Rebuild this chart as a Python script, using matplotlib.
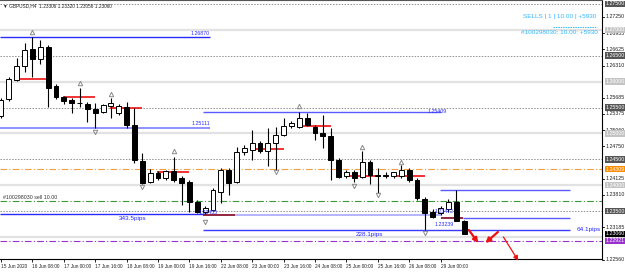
import matplotlib
matplotlib.use("Agg")
import matplotlib.pyplot as plt
from matplotlib import transforms

# GBPUSD H4 candles, 15 Jun 16:00 .. 29 Jun 12:00
opens = [1.25336, 1.25664, 1.26031, 1.26302, 1.26630, 1.26437, 1.26669, 1.25915, 1.25703, 1.25645,
         1.25587, 1.25568, 1.25471, 1.25413, 1.25529, 1.25394, 1.25510, 1.25162, 1.24467, 1.24060,
         1.24235, 1.24138, 1.24274, 1.24138, 1.24060, 1.23674, 1.23481, 1.23520, 1.23867, 1.24293,
         1.24060, 1.24640, 1.24679, 1.24814, 1.24660, 1.24814, 1.24968, 1.25143, 1.25123, 1.25297,
         1.25123, 1.25007, 1.24949, 1.24486, 1.24176, 1.24254, 1.24158, 1.24447, 1.24196, 1.24196,
         1.24176, 1.24176, 1.24293, 1.24099, 1.23732, 1.23481, 1.23462, 1.23539, 1.23674, 1.23306]
highs = [1.25683, 1.26090, 1.26456, 1.26746, 1.26870, 1.26804, 1.26708, 1.25954, 1.25722, 1.25683,
         1.25877, 1.25606, 1.25587, 1.25568, 1.25683, 1.25568, 1.25606, 1.25490, 1.24621, 1.24312,
         1.24274, 1.24293, 1.24544, 1.24176, 1.24099, 1.23713, 1.23597, 1.23945, 1.24332, 1.24332,
         1.24737, 1.24776, 1.25065, 1.24853, 1.25104, 1.25123, 1.25297, 1.25239, 1.25409, 1.25394,
         1.25162, 1.25355, 1.25104, 1.24524, 1.24293, 1.24293, 1.24660, 1.24486, 1.24332, 1.24254,
         1.24254, 1.24390, 1.24332, 1.24138, 1.23771, 1.23539, 1.23597, 1.23732, 1.23906, 1.23320]
lows = [1.25297, 1.25626, 1.26012, 1.26186, 1.26090, 1.26341, 1.25510, 1.25664, 1.25568, 1.25394,
        1.25510, 1.25220, 1.25111, 1.25394, 1.25297, 1.25355, 1.25104, 1.24428, 1.24022, 1.24041,
        1.24099, 1.24099, 1.24060, 1.23616, 1.23481, 1.23462, 1.23435, 1.23500, 1.23655, 1.23810,
        1.24041, 1.24582, 1.24486, 1.24621, 1.24370, 1.24293, 1.24949, 1.25104, 1.25104, 1.25143,
        1.24872, 1.24718, 1.24099, 1.24138, 1.24138, 1.24060, 1.24138, 1.24022, 1.23848, 1.24138,
        1.24138, 1.24138, 1.24060, 1.23713, 1.23128, 1.23366, 1.23423, 1.23481, 1.23327, 1.23056]
closes = [1.25645, 1.26051, 1.26302, 1.26611, 1.26437, 1.26669, 1.25877, 1.25703, 1.25626, 1.25587,
          1.25578, 1.25471, 1.25394, 1.25548, 1.25587, 1.25529, 1.25162, 1.24486, 1.24041, 1.24235,
          1.24138, 1.24274, 1.24099, 1.24041, 1.23674, 1.23481, 1.23558, 1.23906, 1.24293, 1.24041,
          1.24640, 1.24718, 1.24814, 1.24660, 1.24814, 1.24968, 1.25143, 1.25201, 1.25297, 1.25162,
          1.25007, 1.24949, 1.24486, 1.24158, 1.24254, 1.24138, 1.24447, 1.24196, 1.24186, 1.24186,
          1.24254, 1.24293, 1.24099, 1.23752, 1.23462, 1.23385, 1.23558, 1.23674, 1.23310, 1.23060]

# fractal arrows (bar index, price)
fractal_up = [(4, 1.26959), (10, 1.25973), (14, 1.25761), (22, 1.24660), (38, 1.25529),
              (46, 1.24737), (51, 1.24447)]
fractal_down = [(12, 1.25027), (18, 1.23964), (26, 1.23288), (35, 1.24254), (45, 1.23983),
                (48, 1.23810), (54, 1.23075)]

# daily open segments (start bar, end bar, price)
day_lines = [(2, 6, 1.26051), (8, 12, 1.25710), (14, 18, 1.25490), (20, 24, 1.24260),
             (32, 36, 1.24698), (38, 42, 1.25143), (44, 48, 1.24176), (50, 54, 1.24176)]
day_lines_dark = [(25.7, 29.8, 1.23430), (56, 58.9, 1.23366)]

date_labels = ["15 Jun 2020", "16 Jun 08:00", "17 Jun 00:00", "17 Jun 16:00", "18 Jun 08:00",
               "19 Jun 00:00", "19 Jun 16:00", "22 Jun 08:00", "23 Jun 00:00", "23 Jun 16:00",
               "24 Jun 08:00", "25 Jun 00:00", "25 Jun 16:00", "26 Jun 08:00", "29 Jun 00:00"]
date_bars = [0, 4, 8, 12, 16, 20, 24, 28, 32, 36, 40, 44, 48, 52, 56]

scale_prices = [1.27250, 1.26935, 1.26625, 1.26310, 1.25685, 1.25375, 1.25060,
                1.24750, 1.24125, 1.23810, 1.23185, 1.22560]
box_prices = [1.27500, 1.27000, 1.26500, 1.26000, 1.25500, 1.25000, 1.24500, 1.24309,
              1.24000, 1.23500, 1.23000, 1.23060, 1.22921]
box_colors = ["#555555", "#c4c4c4", "#555555", "#c4c4c4", "#555555", "#c4c4c4", "#555555",
              "#ff8c00", "#c4c4c4", "#555555", "#c4c4c4", "#000000", "#9932cc"]

FONT = "Liberation Sans"
FS = 3.8

fig = plt.figure(figsize=(6.25, 2.72), dpi=100)
ax = fig.add_axes([0, 13 / 272, 602 / 625, 259 / 272])
ax.set_xlim(-0.13, 76.56)
ax.set_ylim(1.22573, 1.27577)

# grid: dotted half levels, light solid round levels
for p in [1.275, 1.265, 1.255, 1.245, 1.235]:
    ax.axhline(p, color="#909090", lw=0.7, ls=(0, (1.5, 1.5)), zorder=0)
for p in [1.27, 1.26, 1.25, 1.24, 1.23]:
    ax.axhline(p, color="#e2e2e2", lw=1.6, zorder=0)

# indicator levels across the chart
ax.axhline(1.24309, color="#f0a040", lw=0.8, ls=(0, (6, 2, 1, 2)), zorder=1)
ax.axhline(1.23700, color="#3a9a3a", lw=0.8, ls=(0, (6, 2, 1, 2)), zorder=1)
ax.axhline(1.22921, color="#9932cc", lw=0.8, ls=(0, (6, 2, 1, 2)), zorder=1)

# trend / measure lines
ax.hlines(1.26870, -0.13, 26.6, color="#2a2aff", lw=1.0, zorder=1)
ax.hlines(1.25111, -0.13, 26.6, color="#9090ff", lw=1.4, zorder=1)
ax.hlines(1.25409, 25.7, 56.0, color="#5a5aff", lw=1.0, zorder=1)
ax.hlines(1.23435, -0.13, 25.7, color="#2a2aff", lw=1.0, zorder=1)
ax.hlines(1.23430, 29.8, 56.0, color="#a8a8ff", lw=1.2, zorder=1)
ax.hlines(1.23128, 25.7, 72.5, color="#3a3aff", lw=1.0, zorder=1)
ax.hlines(1.23906, 55.9, 72.5, color="#5a5aff", lw=1.0, zorder=1)
ax.hlines(1.23366, 58.9, 72.5, color="#5a5aff", lw=1.0, zorder=1)

for b0, b1, p in day_lines:
    ax.hlines(p, b0 - 0.1, b1, color="#ee1111", lw=1.2, zorder=2)
for b0, b1, p in day_lines_dark:
    ax.hlines(p, b0, b1, color="#800020", lw=1.2, zorder=2)

# candles
for i in range(len(opens)):
    o, h, l, c = opens[i], highs[i], lows[i], closes[i]
    ax.vlines(i, l, h, color="black", lw=0.8, zorder=3)
    bull = c >= o
    body = max(abs(c - o), 0.00004)
    ax.bar(i, body, bottom=min(o, c), width=0.62, color="white" if bull else "black",
           edgecolor="black", lw=0.7, zorder=4)

ax.plot([f[0] for f in fractal_up], [f[1] for f in fractal_up], ls="none", marker="^",
        ms=3.2, mfc="none", mec="#8a8a8a", mew=0.7, zorder=5)
ax.plot([f[0] for f in fractal_down], [f[1] for f in fractal_down], ls="none", marker="v",
        ms=3.2, mfc="none", mec="#8a8a8a", mew=0.7, zorder=5)

# line labels
txt = dict(fontsize=FS, family=FONT, zorder=6)
ax.text(26.6, 1.26890, "1.26870", color="#2a2aff", ha="right", va="bottom", **txt)
ax.text(26.6, 1.25140, "1.25111", color="#2a2aff", ha="right", va="bottom", **txt)
ax.text(56.8, 1.25420, "1.25409", color="#2a2aff", ha="right", va="center", **txt)
ax.text(16.8, 1.23405, "343.5pips", color="#2a2aff", ha="center", va="top", fontsize=4.6, family=FONT)
ax.text(46.9, 1.23098, "228.1pips", color="#2a2aff", ha="center", va="top", fontsize=4.6, family=FONT)
ax.text(76.4, 1.23150, "64.1pips", color="#2a2aff", ha="right", va="center", fontsize=4.6, family=FONT)
ax.text(55.2, 1.23500, "1.23472", color="#2a2aff", ha="left", va="center", **txt)
ax.text(55.2, 1.23240, "1.23239", color="#2a2aff", ha="left", va="center", **txt)
ax.text(25.2, 1.23480, "1.23435", color="#2a2aff", ha="left", va="center", **txt)
ax.text(0.3, 1.23770, "#100298030 sell 10.00", color="#333333", ha="left", va="center", **txt)
ax.text(0.2, 1.27470, "\u25bc GBPUSD,H4  1.23306 1.23320 1.23056 1.23060", color="#222222",
        ha="left", va="center", fontsize=3.4, family=FONT, zorder=6)
ax.text(75.9, 1.27250, "SELLS | 1 | 10.00 | +5930", color="#33b5ff", ha="right", va="center",
        fontsize=4.6, family=FONT)
ax.hlines(1.27065, 70.3, 75.9, color="#33b5ff", lw=0.7, ls=(0, (1.5, 1)))
ax.text(76.0, 1.26940, "#100298030: 10.00: +5930", color="#33b5ff", ha="right", va="center",
        fontsize=4.6, family=FONT)

# red arrows drawn on the chart
arrow_kw = dict(arrowstyle="-|>", color="#ee1111", mutation_scale=7, shrinkA=0, shrinkB=0)
ax.annotate("", xy=(60.8, 1.22882), xytext=(59.6, 1.23133), arrowprops=dict(lw=1.6, **arrow_kw),
            annotation_clip=False)
ax.annotate("", xy=(61.7, 1.22882), xytext=(63.3, 1.23095), arrowprops=dict(lw=1.6, **arrow_kw),
            annotation_clip=False)
ax.annotate("", xy=(65.9, 1.22540), xytext=(64.0, 1.22998), arrowprops=dict(lw=0.9, **arrow_kw),
            annotation_clip=False)

# price scale on the right
ax.set_yticks([])
trans = transforms.blended_transform_factory(ax.transAxes, ax.transData)
for p in scale_prices:
    ax.text(1.006, p, f"{p:.5f}", transform=trans, ha="left", va="center", fontsize=FS,
            family=FONT, color="#222222", clip_on=False, zorder=1)
    ax.plot([1.0, 1.004], [p, p], transform=trans, color="black", lw=0.6, clip_on=False)
for p, col in zip(box_prices, box_colors):
    ax.text(1.006, p, f"{p:.5f}", transform=trans, ha="left", va="center", fontsize=FS,
            family=FONT, color="white", clip_on=False, zorder=7,
            bbox=dict(boxstyle="square,pad=0.15", fc=col, ec="none"))

# time scale
ax.set_xticks(date_bars)
ax.set_xticklabels(date_labels, fontsize=3.4, family=FONT, ha="left", color="#222222")
ax.tick_params(axis="x", length=2, width=0.6, pad=1.5)

for s in ax.spines.values():
    s.set_linewidth(0.8)
ax.spines["left"].set_visible(False)
ax.spines["top"].set_color("#555555")

fig.savefig("out.png", dpi=100)
